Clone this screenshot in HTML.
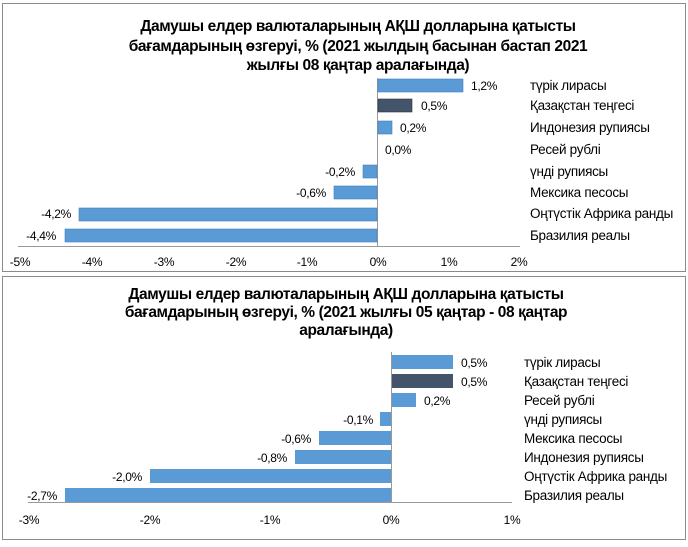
<!DOCTYPE html>
<html><head><meta charset="utf-8"><style>
body{margin:0;background:#fff;width:688px;height:542px;overflow:hidden}
text{font-family:"Liberation Sans",sans-serif;fill:#000}
.t{font-weight:bold;font-size:15.5px;letter-spacing:-0.4px}
.s{font-size:12px;letter-spacing:-0.3px}
.l{font-size:13.5px;letter-spacing:-0.3px}
</style></head><body>
<svg width="688" height="542" xmlns="http://www.w3.org/2000/svg">
<rect x="2.5" y="3.5" width="683" height="268" fill="#fff" stroke="#8a8a8a"/>
<rect x="2.5" y="276.5" width="683" height="263" fill="#fff" stroke="#8a8a8a"/>
<g class="t" text-anchor="middle">
<text x="358" y="31">Дамушы елдер валюталарының АҚШ долларына қатысты</text>
<text x="358" y="51">бағамдарының өзгеруі, %  (2021 жылдың басынан бастап 2021</text>
<text x="358" y="70">жылғы 08 қаңтар аралағында)</text>
<text x="346" y="299">Дамушы елдер валюталарының АҚШ долларына қатысты</text>
<text x="346" y="317">бағамдарының өзгеруі, %  (2021 жылғы 05 қаңтар - 08 қаңтар</text>
<text x="346" y="335">аралағында)</text>
</g>
<!-- chart 1 -->
<line x1="18" y1="246.5" x2="520" y2="246.5" stroke="#999"/>
<line x1="377.5" y1="78" x2="377.5" y2="247" stroke="#999"/>
<g fill="#5b9bd5" stroke="#3f7fbf" stroke-width="0.6">
<rect x="378" y="79" width="85" height="13"/>
<rect x="378" y="99" width="34" height="13" fill="#44546a" stroke="#333"/>
<rect x="378" y="121" width="14" height="13"/>
<rect x="363" y="165" width="14" height="13"/>
<rect x="334" y="186" width="43" height="13"/>
<rect x="79" y="208" width="298" height="13"/>
<rect x="65" y="229" width="312" height="13"/>
</g>
<g class="s">
<text x="471" y="90">1,2%</text>
<text x="421" y="110">0,5%</text>
<text x="400" y="132">0,2%</text>
<text x="385" y="154">0,0%</text>
<text x="355" y="176" text-anchor="end">-0,2%</text>
<text x="326" y="197" text-anchor="end">-0,6%</text>
<text x="71" y="218" text-anchor="end">-4,2%</text>
<text x="56" y="240" text-anchor="end">-4,4%</text>
</g>
<g class="l">
<text x="530" y="90">түрік лирасы</text>
<text x="530" y="110">Қазақстан теңгесі</text>
<text x="530" y="132">Индонезия рупиясы</text>
<text x="530" y="154">Ресей рублі</text>
<text x="530" y="176">үнді рупиясы</text>
<text x="530" y="197">Мексика песосы</text>
<text x="530" y="218">Оңтүстік Африка ранды</text>
<text x="530" y="240">Бразилия реалы</text>
</g>
<g class="s" text-anchor="middle">
<text x="20" y="266">-5%</text><text x="92" y="266">-4%</text><text x="164" y="266">-3%</text>
<text x="236" y="266">-2%</text><text x="307" y="266">-1%</text><text x="378" y="266">0%</text>
<text x="449" y="266">1%</text><text x="519" y="266">2%</text>
</g>
<!-- chart 2 -->
<line x1="28" y1="502.5" x2="512" y2="502.5" stroke="#999"/>
<line x1="391.5" y1="352" x2="391.5" y2="503" stroke="#999"/>
<g fill="#5b9bd5">
<rect x="392" y="355" width="61" height="14"/>
<rect x="392" y="374" width="61" height="14" fill="#44546a"/>
<rect x="392" y="393" width="24" height="14"/>
<rect x="380" y="412" width="11" height="14"/>
<rect x="319" y="431" width="72" height="14"/>
<rect x="295" y="450" width="96" height="14"/>
<rect x="150" y="469" width="241" height="14"/>
<rect x="65" y="488" width="326" height="14"/>
</g>
<g class="s">
<text x="461" y="367">0,5%</text>
<text x="461" y="386">0,5%</text>
<text x="424" y="405">0,2%</text>
<text x="373" y="424" text-anchor="end">-0,1%</text>
<text x="311" y="443" text-anchor="end">-0,6%</text>
<text x="287" y="462" text-anchor="end">-0,8%</text>
<text x="142" y="481" text-anchor="end">-2,0%</text>
<text x="57" y="500" text-anchor="end">-2,7%</text>
</g>
<g class="l">
<text x="524" y="367">түрік лирасы</text>
<text x="524" y="386">Қазақстан теңгесі</text>
<text x="524" y="405">Ресей рублі</text>
<text x="524" y="424">үнді рупиясы</text>
<text x="524" y="443">Мексика песосы</text>
<text x="524" y="462">Индонезия рупиясы</text>
<text x="524" y="481">Оңтүстік Африка ранды</text>
<text x="524" y="500">Бразилия реалы</text>
</g>
<g class="s" text-anchor="middle">
<text x="29" y="524">-3%</text><text x="150" y="524">-2%</text><text x="270" y="524">-1%</text>
<text x="391" y="524">0%</text><text x="512" y="524">1%</text>
</g>
</svg>
</body></html>
